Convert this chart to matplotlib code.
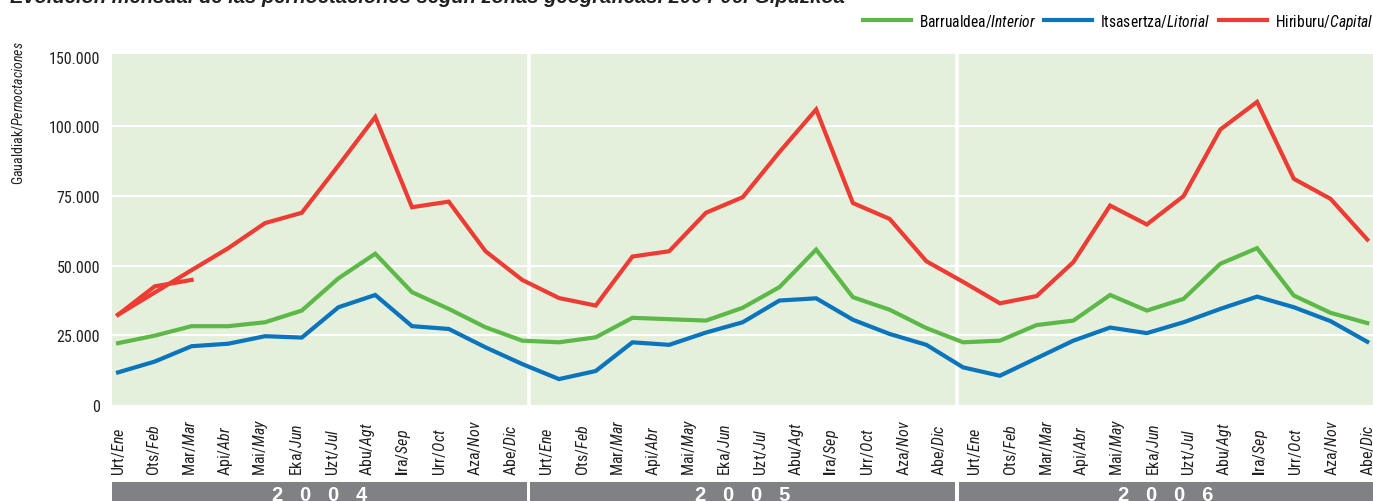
import numpy as np
import matplotlib
matplotlib.use("Agg")
from matplotlib import pyplot as plt
from matplotlib import font_manager
from matplotlib.patches import Rectangle
from matplotlib.transforms import blended_transform_factory

# pick a narrow face if one is installed
names = {f.name for f in font_manager.fontManager.ttflist}
FONT = next((n for n in ["Liberation Sans Narrow", "Roboto Condensed", "DejaVu Sans"] if n in names), "DejaVu Sans")

plt.rcParams["font.family"] = FONT
plt.rcParams["mathtext.fontset"] = "custom"
plt.rcParams["mathtext.rm"] = FONT
plt.rcParams["mathtext.it"] = FONT + ":italic"
plt.rcParams["mathtext.bf"] = FONT + ":bold"

years = ["2004", "2005", "2006"]
months_eu = ["Urt", "Ots", "Mar", "Api", "Mai", "Eka", "Uzt", "Abu", "Ira", "Urr", "Aza", "Abe"]
months_es = ["Ene", "Feb", "Mar", "Abr", "May", "Jun", "Jul", "Agt", "Sep", "Oct", "Nov", "Dic"]

series_names = [r"Barrualdea/$\mathit{Interior}$",
                r"Itsasertza/$\mathit{Litorial}$",
                r"Hiriburu/$\mathit{Capital}$"]
series_colors = ["#5cb947", "#0a74bd", "#ee3b33"]

# the drawn lines have 35 evenly spaced points over the 36 month slots
interior = [22200, 24900, 28300, 28300, 29700, 33900, 45500, 54300, 40500, 34500,
            27900, 23100, 22500, 24300, 31300, 30800, 30300, 34900, 42300, 55800,
            38700, 34200, 27600, 22500, 23100, 28700, 30300, 39500, 33900, 38100,
            50700, 56300, 39300, 33100, 29400]
litorial = [11700, 15600, 21100, 22000, 24700, 24200, 35100, 39500, 28300, 27300,
            20700, 14700, 9300, 12200, 22500, 21600, 26000, 29700, 37500, 38300,
            30600, 25500, 21600, 13500, 10500, 16800, 23100, 27800, 25800, 29700,
            34500, 38900, 35100, 30100, 22700]
capital = [32400, 40400, 48400, 56300, 65300, 69000, 86000, 103400, 71000, 73000,
           55200, 44900, 38400, 35700, 53300, 55200, 69000, 74600, 90800, 106100,
           72500, 66800, 51600, 44200, 36500, 39100, 51300, 71600, 64800, 75000,
           98900, 108800, 81200, 74000, 59400]
# stray red stroke at the start of 2004 in the original
capital_stub = [32400, 42600, 44900]

yticks = [0, 25000, 50000, 75000, 100000, 125000]
ytick_labels = ["0", "25.000", "50.000", "75.000", "100.000", "150.000"]
grid_vals = [25000, 50000, 75000, 100000]

title = "Evolución mensual de las pernoctaciones según zonas geográficas. 2004-06. Gipuzkoa"
ylabel = r"Gaualdiak/$\mathit{Pernoctaciones}$"

TXT = "#231f20"
W, H = 1373, 502
fig = plt.figure(figsize=(W / 100, H / 100), dpi=100)
ax = fig.add_axes([112 / W, 96 / H, 1261 / W, 351 / H])
ax.set_facecolor("#e4efdc")
for s in ax.spines.values():
    s.set_visible(False)

n_months = len(years) * 12
xmin, xmax = -0.17, 35.16

for g in grid_vals:
    ax.axhline(g, color="white", lw=1.6, zorder=1)
for i in range(1, len(years)):
    ax.axvline(i * 12 - 0.5, color="white", lw=2.6, zorder=1)

lines = []
for vals, c in zip([interior, litorial, capital], series_colors):
    x = np.linspace(0, n_months - 1, len(vals))
    ln, = ax.plot(x, vals, color=c, lw=3.0, solid_joinstyle="miter", zorder=3)
    lines.append(ln)
xs = np.linspace(0, n_months - 1, len(capital))[:len(capital_stub)]
ax.plot(xs, capital_stub, color=series_colors[2], lw=3.0, solid_joinstyle="miter", zorder=3)

ax.set_xlim(xmin, xmax)
ax.set_ylim(0, 126000)

labels = []
for y in years:
    for eu, es in zip(months_eu, months_es):
        if eu == "Ira":
            labels.append(r"$\mathbf{I}$ra/$\mathit{%s}$" % es)
        else:
            labels.append(r"%s/$\mathit{%s}$" % (eu, es))
ax.set_xticks(range(n_months))
ax.set_xticklabels(labels, rotation=90, ha="center", va="bottom", fontsize=11.5, color=TXT)
ax.tick_params(axis="x", length=0, pad=50.5)

ax.set_yticks(yticks)
ax.set_yticklabels(ytick_labels, fontsize=11.5, color=TXT)
ax.tick_params(axis="y", length=0, pad=8.5)

fig.text(18 / W, 1 - 113 / H, ylabel, rotation=90, ha="center", va="center",
         fontsize=10, color=TXT)

fig.text(10 / W, 1 - 3 / H, title, family="Liberation Sans", fontweight="bold",
         fontstyle="italic", fontsize=14.5, color=TXT, va="baseline")

ax.legend(lines, series_names, loc="center right", bbox_to_anchor=(1.0, 1 - 22 / H),
          bbox_transform=fig.transFigure, ncol=3, frameon=False, fontsize=11.2,
          handlelength=3.1, handletextpad=0.5, columnspacing=0.55,
          borderaxespad=0, borderpad=0)

# year band under the month labels
trans = blended_transform_factory(ax.transData, fig.transFigure)
gap = 0.05
for i, y in enumerate(years):
    left = max(i * 12 - 0.5 + gap, xmin)
    right = min(i * 12 + 11.5 - gap, xmax)
    fig.add_artist(Rectangle((left, 0), right - left, 19 / H, transform=trans,
                             facecolor="#808184", edgecolor="none"))
    fig.text((left + right) / 2, 1 - 486 / H, "   ".join(y), transform=trans,
             ha="center", va="top", color="white", fontsize=14.5, fontweight="bold",
             family="Liberation Sans")

fig.savefig("out.png", dpi=100)
